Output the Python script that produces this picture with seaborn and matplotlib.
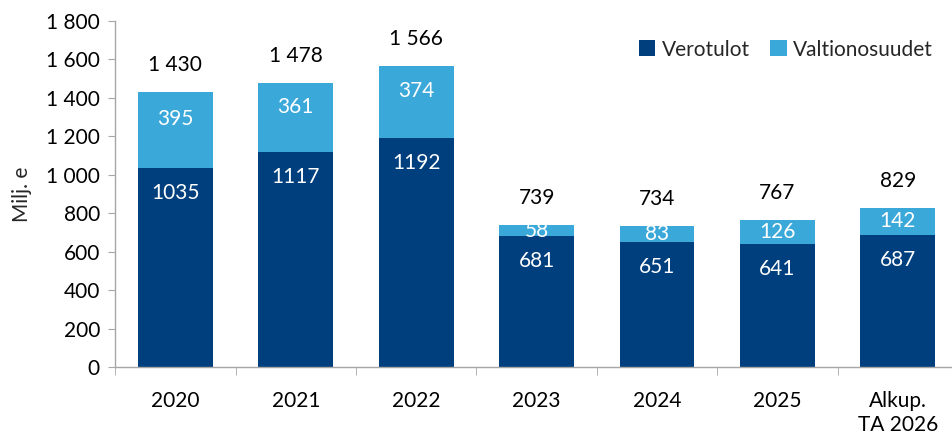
import numpy as np
import pandas as pd
import matplotlib.pyplot as plt
import seaborn as sns
from matplotlib.ticker import FuncFormatter, FixedLocator

years = ["2020", "2021", "2022", "2023", "2024", "2025", "Alkup.\nTA 2026"]
verotulot = [1035, 1117, 1192, 681, 651, 641, 687]
valtionosuudet = [395, 361, 374, 58, 83, 126, 142]
totals = [1430, 1478, 1566, 739, 734, 767, 829]

dark = "#003F7D"
light = "#3BA8DA"
fs = 15

df = pd.DataFrame({"year": years, "Verotulot": verotulot,
                   "Valtionosuudet": valtionosuudet, "total": totals})

sns.set_style("white")
plt.rcParams["font.family"] = ["Lato", "DejaVu Sans"]

fig = plt.figure(figsize=(9.52, 4.34), dpi=100)
ax = fig.add_axes([0.121, 0.154, 0.879, 0.798])

# light bar = full height, dark bar drawn on top as the lower segment
sns.barplot(data=df, x="year", y="total", color=light, width=0.62,
            saturation=1, linewidth=0, ax=ax, label="Valtionosuudet")
sns.barplot(data=df, x="year", y="Verotulot", color=dark, width=0.62,
            saturation=1, linewidth=0, ax=ax, label="Verotulot")

for i in range(len(years)):
    seg = valtionosuudet[i]
    mid = verotulot[i] + seg / 2
    if seg > 200:
        mid += 0.15 * seg
    ax.text(i, verotulot[i] - 130, str(verotulot[i]), ha="center", va="center",
            color="white", fontsize=fs)
    ax.text(i, mid, str(seg), ha="center", va="center", color="white", fontsize=fs)
    ax.text(i, totals[i] + 138, f"{totals[i]:,}".replace(",", " "),
            ha="center", va="center", color="black", fontsize=fs)

ax.set_ylim(0, 1800)
ax.set_xlim(-0.5, 6.45)
ax.set_yticks(range(0, 1801, 200))
ax.yaxis.set_major_formatter(FuncFormatter(lambda v, p: f"{int(v):,}".replace(",", " ")))
ax.set_ylabel("Milj. e", fontsize=fs, labelpad=10)
ax.set_xlabel("")

ax.tick_params(axis="both", labelsize=fs, colors="black")
ax.tick_params(axis="y", which="major", left=True, length=5, color="#A6A6A6", pad=6)
ax.tick_params(axis="x", which="major", bottom=False, pad=14)
ax.xaxis.set_minor_locator(FixedLocator(np.arange(-0.5, 6.6, 1)))
ax.tick_params(axis="x", which="minor", bottom=True, length=6, color="#A6A6A6")

for s in ["top", "right"]:
    ax.spines[s].set_visible(False)
for s in ["left", "bottom"]:
    ax.spines[s].set_color("#A6A6A6")
    ax.spines[s].set_linewidth(1)

handles, labels = ax.get_legend_handles_labels()
order = [labels.index("Verotulot"), labels.index("Valtionosuudet")]
ax.legend([handles[k] for k in order], [labels[k] for k in order],
          loc="upper right", bbox_to_anchor=(1.0, 1.0), ncol=2, frameon=False,
          fontsize=fs, handlelength=0.8, handleheight=0.8, handletextpad=0.3,
          columnspacing=1.0)

fig.savefig("out.png", dpi=100)
